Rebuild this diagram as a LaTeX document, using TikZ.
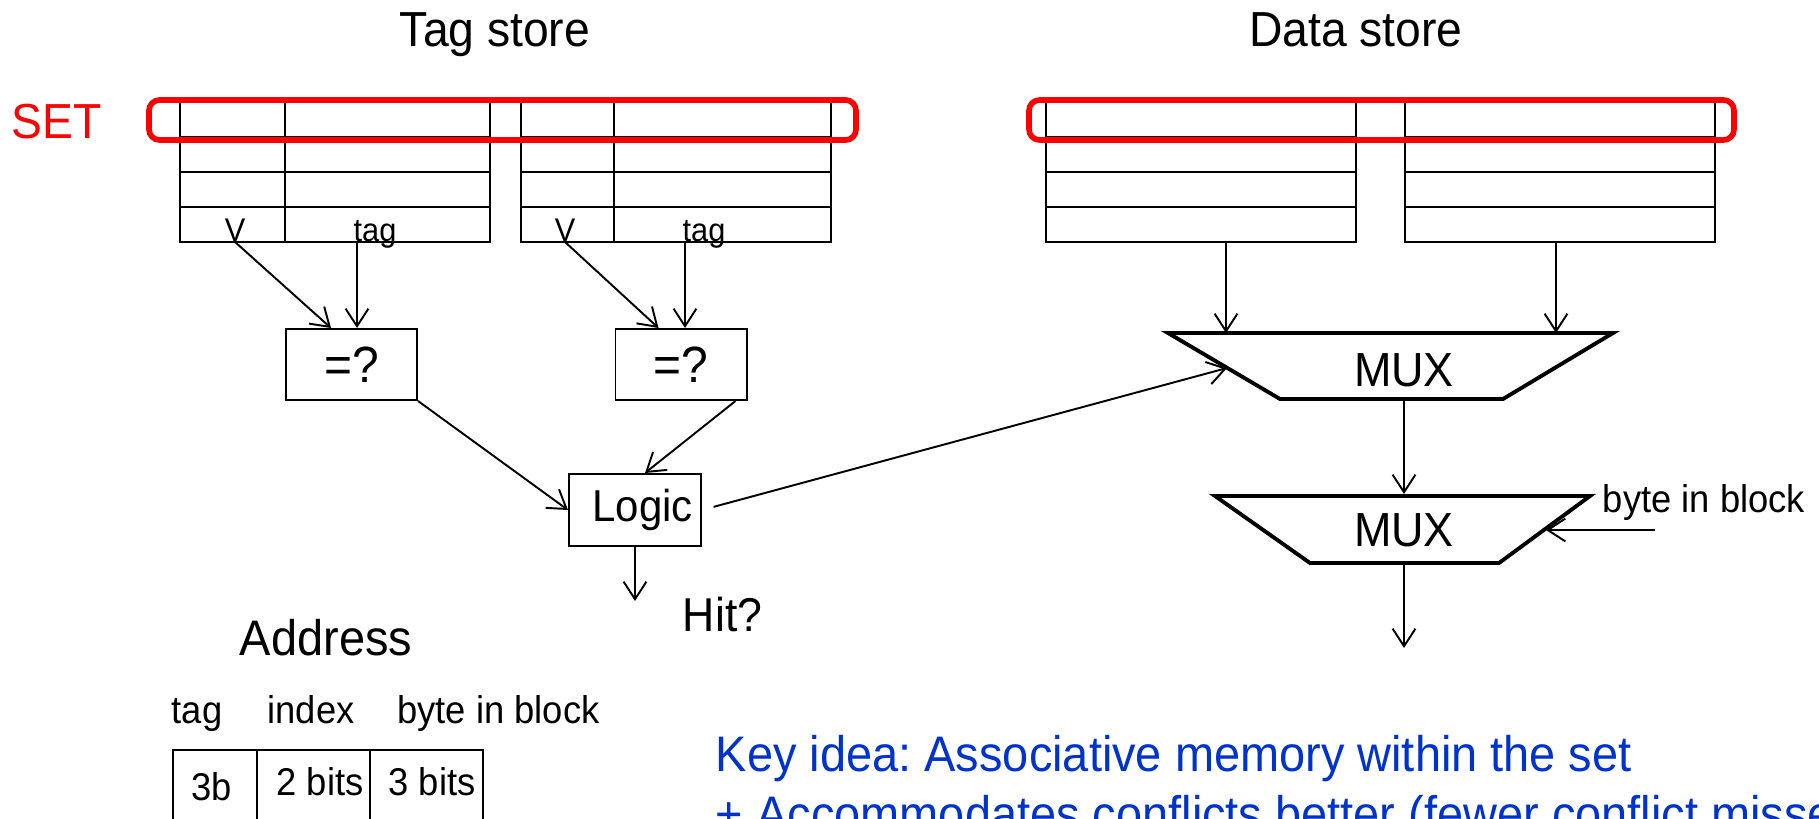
\documentclass[tikz,border=0pt]{standalone}
\usepackage{fontspec}
\setmainfont{Liberation Sans}[FakeStretch=0.94]
\usepackage{tikz}
\usetikzlibrary{arrows.meta,calc,positioning}
\definecolor{keyblue}{RGB}{0,51,204}
\frenchspacing

\begin{document}
\begin{tikzpicture}[x=0.01cm,y=-0.01cm,line width=0.55pt,
    >={Straight Barb[length=5pt,width=6.5pt]},
    box/.style={draw,rectangle,inner sep=0pt},
    setbox/.style={draw=red,line width=1.6pt,rounded corners=3pt},
    muxline/.style={line width=1.1pt,line join=miter},
    head/.style={inner sep=0pt,font=\fontsize{14}{16}\selectfont},
    small/.style={inner sep=0pt,font=\fontsize{9.3}{11}\selectfont},
    mid/.style={inner sep=0pt,font=\fontsize{11}{13}\selectfont},
    note/.style={inner sep=0pt,text=keyblue,font=\fontsize{14.2}{17}\selectfont}]
    \useasboundingbox (0,0) rectangle (1819,818);
    \clip (0,0) rectangle (1819,818);

    % headings
    \node[head,anchor=base] (tagstore) at (495,47) {Tag store};
    \node[head,anchor=base] (datastore) at (1356,47) {Data store};
    \node[head,anchor=base,text=red] (set) at (57,138) {SET};

    % tag store, two ways
    \draw (180,102) rectangle (490,242) (180,137) -- (490,137) (180,172) -- (490,172)
      (180,207) -- (490,207) (285,102) -- (285,242);
    \draw (521,102) rectangle (831,242) (521,137) -- (831,137) (521,172) -- (831,172)
      (521,207) -- (831,207) (614,102) -- (614,242);
    \node[small,anchor=base] (v1) at (235,241) {V};
    \node[small,anchor=base] (t1) at (375,241) {tag};
    \node[small,anchor=base] (v2) at (565,241) {V};
    \node[small,anchor=base] (t2) at (704,241) {tag};
    \coordinate (t1b) at (357,242);
    \coordinate (t2b) at (685,242);

    % data store, two ways
    \draw (1046,102) rectangle (1356,242) (1046,137) -- (1356,137) (1046,172) -- (1356,172)
      (1046,207) -- (1356,207);
    \draw (1405,102) rectangle (1715,242) (1405,137) -- (1715,137) (1405,172) -- (1715,172)
      (1405,207) -- (1715,207);
    \coordinate (d1) at (1226,242);
    \coordinate (d2) at (1556,242);

    % the set
    \draw[setbox] (149,100) rectangle (856,140);
    \draw[setbox] (1029,100) rectangle (1734,140);

    % comparators
    \node[box,minimum width=1.31cm,minimum height=0.71cm,font=\fontsize{14.5}{17}\selectfont]
      (eq1) at (351.5,364.5) {=?};
    \node[box,minimum width=1.31cm,minimum height=0.71cm,font=\fontsize{14.5}{17}\selectfont]
      (eq2) at (681,364.5) {=?};
    \node[box,minimum width=1.32cm,minimum height=0.72cm,font=\fontsize{12.7}{15}\selectfont]
      (logic) at (635,510) {\hspace{0.15cm}Logic};
    \node[inner sep=0pt,anchor=base west,font=\fontsize{13.5}{16}\selectfont]
      (hit) at (682,631) {Hit?};

    \draw[->] (v1.south) -- ($(eq1.north west)+(46,0)$);
    \draw[->] (t1b) -- (t1b |- eq1.north);
    \draw[->] (v2.south) -- ($(eq2.north west)+(44,0)$);
    \draw[->] (t2b) -- (t2b |- eq2.north);
    \draw[->] (eq1.south east) -- (logic.west);
    \draw[->] ($(eq2.south east)+(-12,0)$) -- ($(logic.north)+(10,0)$);
    \draw[->] (logic.south) -- ++(0,54);

    % multiplexers
    \draw[muxline] (1168,333) coordinate (m1tl) -- (1613,333) -- (1503,399) -- (1280,399) -- cycle;
    \draw[muxline] (1215,496) coordinate (m2tl) -- (1590,496) -- (1499,563) -- (1310,563) -- cycle;
    \node[inner sep=0pt,font=\fontsize{13.6}{16}\selectfont] (mux1) at (1404,370) {MUX};
    \node[inner sep=0pt,font=\fontsize{13.6}{16}\selectfont] (mux2) at (1404,530) {MUX};
    \coordinate (sel) at (1227,368);
    \coordinate (m1out) at (1404,399);
    \coordinate (m2in) at (1404,494);
    \coordinate (m2out) at (1404,563);
    \coordinate (m2r) at (1546,530);
    \coordinate (bibin) at (1655,530);
    \node[mid,anchor=base west] (bib) at (1602,512) {byte in block};

    \draw[->] (d1) -- (d1 |- m1tl);
    \draw[->] (d2) -- (d2 |- m1tl);
    \draw[->,shorten <=0.12cm] (logic.east) -- (sel);
    \draw[->] (m1out) -- (m2in);
    \draw[->] (m2out) -- ++(0,85);
    \draw[->] (bibin) -- (m2r);

    % address
    \node[inner sep=0pt,anchor=base,font=\fontsize{14.2}{17}\selectfont] (addr) at (326,655) {Address};
    \node[mid,anchor=base] (atag) at (197,723) {tag};
    \node[mid,anchor=base] (aindex) at (311,723) {index};
    \node[mid,anchor=base] (abyte) at (498.5,723) {byte in block};
    \draw (173,830) -- (173,750) -- (483,750) -- (483,830) (257,750) -- (257,830) (370,750) -- (370,830);
    \node[mid,anchor=base] (ctag) at (212,800) {3b};
    \node[mid,anchor=base] (cindex) at (320,795) {2 bits};
    \node[mid,anchor=base] (cbyte) at (432,795) {3 bits};

    % key idea
    \node[note,anchor=base west] (key) at (715,771) {Key idea: Associative memory within the set};
    \node[note,anchor=base west] (plus) at (715,831) {+ Accommodates conflicts better (fewer conflict misses)};
  \end{tikzpicture}
\end{document}
